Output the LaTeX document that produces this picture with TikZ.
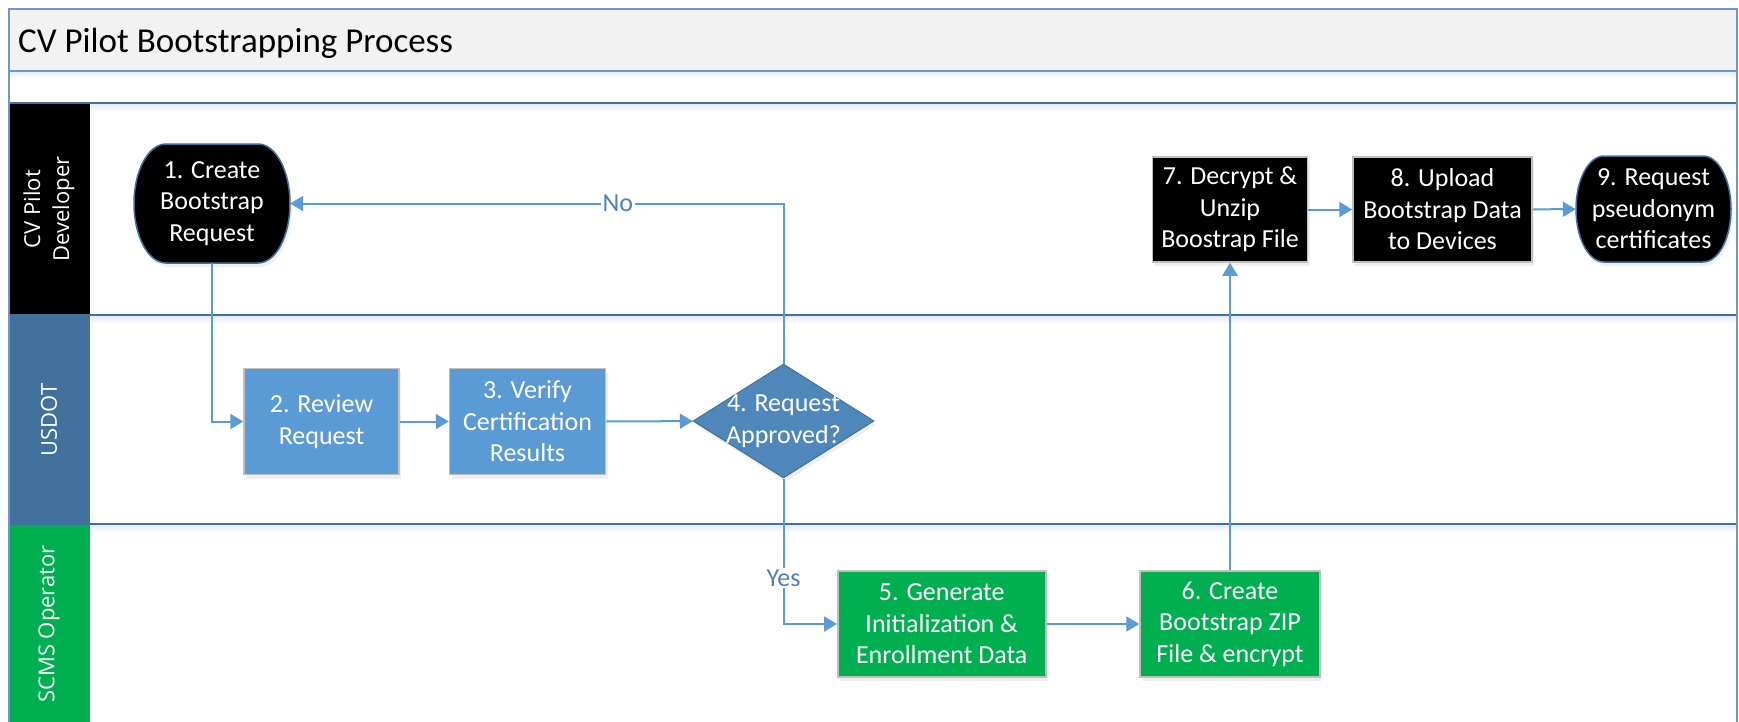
\documentclass[tikz,border=0pt]{standalone}
\usepackage{fontspec}
\setmainfont{Carlito}
\newfontfamily\lanefont{Open Sans}
\usetikzlibrary{arrows.meta,shapes.geometric,shadows}
\definecolor{connc}{HTML}{5B9BD5}
\definecolor{lblc}{HTML}{4F81BD}
\definecolor{bluefill}{HTML}{5B9BD5}
\definecolor{diafill}{HTML}{4F87BA}
\definecolor{diabd}{HTML}{41719C}
\definecolor{greenfill}{HTML}{00B050}
\definecolor{graybd}{HTML}{BFBFBF}
\definecolor{termbd}{HTML}{41719C}
\definecolor{lanebd}{HTML}{41719C}
\definecolor{framebd}{HTML}{7097C7}
\definecolor{titlefill}{HTML}{F2F2F2}
\definecolor{usdotcol}{HTML}{41719C}
\definecolor{sepshadow}{HTML}{E3EDF8}
\tikzset{
  conn/.style={draw=connc, line width=2pt, -{Triangle[length=13pt,width=15pt]}},
  nodeshadow/.style={drop shadow={opacity=0.12, shadow xshift=2pt, shadow yshift=-4pt}},
  boxbase/.style={rectangle, align=center, text=white, inner sep=0pt,
    font=\fontsize{26}{31.5}\selectfont, nodeshadow},
  blackbox/.style={boxbase, fill=black, draw=graybd, line width=1.5pt},
  bluebox/.style={boxbase, fill=bluefill, draw=graybd, line width=1.5pt},
  greenbox/.style={boxbase, fill=greenfill, draw=graybd, line width=1.5pt},
  termshape/.style={fill=black, draw=termbd, line width=1.5pt, nodeshadow},
  termtext/.style={rectangle, align=center, text=white, inner sep=0pt,
    font=\fontsize{26}{31.5}\selectfont},
  decision/.style={diamond, fill=diafill, draw=diabd, line width=1pt, inner sep=0pt,
    minimum width=181pt, minimum height=114pt, nodeshadow},
  dtext/.style={align=center, text=white, inner sep=0pt, font=\fontsize{26}{31.5}\selectfont},
  lbl/.style={fill=white, text=lblc, inner sep=1.5pt, font=\fontsize{26}{31}\selectfont},
  lanelab/.style={text=white, align=center, rotate=90, font=\lanefont\fontsize{22}{29}\selectfont},
  lanesep/.style={draw=lanebd, line width=2.5pt},
}
\begin{document}
\begin{tikzpicture}[x=1pt,y=-1pt]
\clip (0,0) rectangle (1739,721);
\fill[white] (0,0) rectangle (1739,721);
% title band
\fill[titlefill] (9,9) rectangle (1737,71);
\node[anchor=base west, inner sep=0pt, font=\fontsize{35}{40}\selectfont] (title) at (18,52) {CV Pilot Bootstrapping Process};
% lane columns
\fill[black] (9,103) rectangle (90,315);
\fill[usdotcol] (9,315) rectangle (90,524);
\fill[greenfill] (9,524) rectangle (90,730);
% separator shadows
\shade[top color=sepshadow, bottom color=white] (9,72) rectangle (1736,78);
\shade[top color=sepshadow, bottom color=white] (91,104) rectangle (1736,112);
\shade[top color=sepshadow, bottom color=white] (91,316) rectangle (1736,324);
\shade[top color=sepshadow, bottom color=white] (91,525) rectangle (1736,533);
% lines
\draw[draw=framebd, line width=2pt] (9,71) -- (1737,71);
\draw[lanesep] (9,103) -- (1737,103);
\draw[lanesep] (9,315) -- (1737,315);
\draw[lanesep] (9,524) -- (1737,524);
\draw[draw=framebd, line width=2pt] (9,730) -- (9,9) -- (1737,9) -- (1737,730);
% lane labels
\node[lanelab] (lane1) at (49,209) {CV Pilot\\Developer};
\node[lanelab] (lane2) at (49,420) {USDOT};
\node[lanelab] (lane3) at (49,624) {SCMS Operator};
% terminal shapes (elliptic ends)
\draw[termshape] (166,144) -- (258,144) .. controls (275.7,144) and (290,170.7) .. (290,203.5)
  .. controls (290,236.3) and (275.7,263) .. (258,263) -- (166,263)
  .. controls (148.3,263) and (134,236.3) .. (134,203.5)
  .. controls (134,170.7) and (148.3,144) .. (166,144) -- cycle;
\draw[termshape] (1604,156) -- (1703,156) .. controls (1718.5,156) and (1731,179.7) .. (1731,209)
  .. controls (1731,238.3) and (1718.5,262) .. (1703,262) -- (1604,262)
  .. controls (1588.5,262) and (1576,238.3) .. (1576,209)
  .. controls (1576,179.7) and (1588.5,156) .. (1604,156) -- cycle;
% nodes
\node[termtext, minimum width=156pt, minimum height=119pt] (n1) at (212,203.5) {1. Create\\Bootstrap\\Request};
\node[bluebox, minimum width=155pt, minimum height=106pt] (n2) at (321.5,421.5) {2. Review\\Request};
\node[bluebox, minimum width=156pt, minimum height=106pt] (n3) at (527.5,421.5) {3. Verify\\Certification\\Results};
\node[decision] (n4) at (783.5,421) {};
\node[dtext] (n4t) at (n4.center) {4. Request\\Approved?};
\node[greenbox, minimum width=208pt, minimum height=106pt] (n5) at (941.75,624) {5. Generate\\Initialization \&\\Enrollment Data};
\node[greenbox, minimum width=180pt, minimum height=106pt] (n6) at (1230,624) {6. Create\\Bootstrap ZIP\\File \& encrypt};
\node[blackbox, minimum width=155pt, minimum height=105pt] (n7) at (1230,209.5) {7. Decrypt \&\\Unzip\\Boostrap File};
\node[blackbox, minimum width=179pt, minimum height=105pt] (n8) at (1442.5,209.5) {8. Upload\\Bootstrap Data\\to Devices};
\node[termtext, minimum width=155pt, minimum height=106pt] (n9) at (1653.5,209) {9. Request\\pseudonym\\certificates};
% connectors
\draw[conn] (n1.south) |- (n2.west);
\draw[conn] (n2) -- (n3);
\draw[conn] (n3) -- (n4);
\draw[conn] (n4.north) |- (n1.east) node[lbl, pos=0.668] {No};
\draw[conn] (n4.south) |- (n5.west) node[lbl, pos=0.342] {Yes};
\draw[conn] (n5) -- (n6);
\draw[conn] (n6.north) -- (n7.south);
\draw[conn] (n7) -- (n8);
\draw[conn] (n8) -- (n9);
\end{tikzpicture}
\end{document}
